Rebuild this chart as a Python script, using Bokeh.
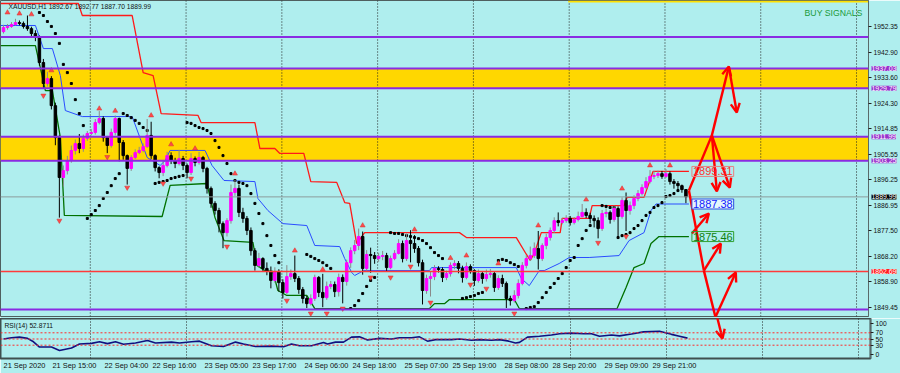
from bokeh.plotting import figure
from bokeh.models import (Range1d, FixedTicker, Span, BoxAnnotation, Label, Arrow, OpenHead,
                          ColumnDataSource, NumeralTickFormatter)
from bokeh.layouts import column, row
from bokeh.embed import file_html
from bokeh.resources import INLINE

# ----------------------------- data -----------------------------
first_open = 1950.5
close = [
    1952.0, 1952.4, 1953.1, 1953.8, 1953.5, 1952.4, 1951.6, 1949.8, 1948.4, 1939.2,
    1931.5, 1933.3, 1923.4, 1911.7, 1897.1, 1899.6, 1903.3, 1907.0, 1909.5, 1907.7,
    1911.4, 1913.2, 1913.6, 1917.2, 1918.7, 1911.7, 1908.8, 1913.6, 1918.7, 1909.9,
    1905.1, 1900.4, 1904.4, 1906.2, 1907.0, 1908.4, 1912.5, 1905.1, 1900.7, 1898.9,
    1901.5, 1905.1, 1903.3, 1902.2, 1904.0, 1901.5, 1898.9, 1904.0, 1902.6, 1904.4,
    1900.4, 1893.1, 1887.6, 1885.0, 1880.2, 1876.9, 1881.3, 1891.6, 1893.1, 1884.3,
    1882.1, 1877.7, 1870.3, 1864.9, 1867.4, 1863.8, 1862.7, 1859.4, 1862.7, 1858.6,
    1855.0, 1860.8, 1861.9, 1860.1, 1856.1, 1852.8, 1850.9, 1852.8, 1860.5, 1855.0,
    1853.1, 1857.2, 1857.9, 1855.3, 1860.5, 1859.0, 1865.9, 1870.3, 1872.2, 1875.5,
    1863.8, 1868.9, 1868.5, 1867.4, 1868.2, 1868.5, 1864.1, 1867.4, 1869.3, 1872.9,
    1867.4, 1874.0, 1872.9, 1871.1, 1865.9, 1855.7, 1860.1, 1860.8, 1863.8, 1863.4,
    1860.5, 1861.9, 1864.9, 1865.6, 1863.8, 1860.5, 1864.5, 1863.0, 1859.4, 1861.9,
    1860.1, 1861.6, 1861.9, 1856.8, 1860.1, 1858.3, 1852.8, 1852.0, 1853.9, 1858.3,
    1864.9, 1867.4, 1868.5, 1871.1, 1867.4, 1872.2, 1875.1, 1877.7, 1881.3, 1880.6,
    1881.3, 1882.1, 1880.6, 1881.7, 1882.8, 1884.3, 1883.2, 1882.1, 1881.3, 1878.4,
    1883.9, 1884.3, 1881.7, 1885.7, 1882.8, 1888.7, 1885.0, 1886.8, 1889.4, 1891.2,
    1893.4, 1895.6, 1897.5, 1897.8, 1898.5, 1897.5, 1898.5, 1895.6, 1894.9, 1894.1,
    1892.67, 1889.99]
high = [
    1953.0, 1953.3, 1954.0, 1955.2, 1954.6, 1954.2, 1956.4, 1952.3, 1951.0, 1949.1,
    1940.5, 1935.8, 1934.2, 1924.5, 1912.5, 1901.5, 1905.0, 1908.8, 1911.0, 1913.0,
    1912.8, 1914.1, 1914.8, 1918.5, 1921.4, 1919.5, 1912.3, 1915.0, 1919.8, 1919.0,
    1910.8, 1905.5, 1905.3, 1907.4, 1908.3, 1909.6, 1918.5, 1917.5, 1905.6, 1901.2,
    1903.5, 1906.5, 1906.3, 1904.3, 1907.2, 1905.0, 1902.2, 1906.0, 1904.8, 1906.5,
    1905.0, 1901.0, 1893.8, 1888.4, 1886.0, 1881.0, 1882.2, 1894.5, 1896.2, 1894.5,
    1886.0, 1883.0, 1878.8, 1871.2, 1869.5, 1867.9, 1866.0, 1864.5, 1864.2, 1863.5,
    1859.8, 1865.0, 1863.4, 1868.5, 1861.0, 1857.0, 1853.7, 1854.3, 1861.5, 1861.0,
    1861.8, 1859.0, 1859.2, 1859.0, 1861.9, 1861.6, 1867.0, 1871.5, 1874.2, 1878.4,
    1877.3, 1870.5, 1871.4, 1869.8, 1869.5, 1870.2, 1869.5, 1868.5, 1870.5, 1874.5,
    1874.0, 1876.6, 1877.8, 1876.0, 1872.0, 1867.0, 1861.5, 1862.5, 1865.0, 1864.6,
    1864.2, 1863.0, 1866.0, 1866.8, 1866.5, 1864.8, 1866.0, 1865.3, 1863.5, 1863.4,
    1862.8, 1863.4, 1863.6, 1862.5, 1861.3, 1861.5, 1859.0, 1853.8, 1855.8, 1859.8,
    1866.1, 1868.7, 1871.8, 1873.3, 1877.5, 1873.0, 1876.5, 1878.8, 1882.5, 1884.3,
    1882.3, 1883.3, 1883.0, 1882.6, 1884.6, 1887.4, 1885.8, 1884.2, 1883.2, 1882.5,
    1885.2, 1885.8, 1885.0, 1886.8, 1886.5, 1889.8, 1891.6, 1888.3, 1890.6, 1892.5,
    1894.6, 1897.2, 1899.8, 1899.5, 1899.6, 1899.5, 1900.2, 1899.3, 1896.5, 1895.8,
    1894.5, 1892.77]
low = [
    1949.8, 1951.2, 1951.9, 1952.7, 1952.8, 1951.6, 1950.8, 1948.9, 1947.0, 1938.0,
    1929.5, 1930.4, 1922.0, 1908.9, 1882.4, 1893.8, 1898.2, 1902.5, 1905.5, 1906.0,
    1906.5, 1910.5, 1912.5, 1912.8, 1916.5, 1910.2, 1906.0, 1908.0, 1912.5, 1903.0,
    1903.6, 1894.5, 1899.5, 1903.8, 1905.6, 1906.3, 1907.9, 1903.9, 1899.3, 1896.8,
    1897.6, 1900.8, 1902.0, 1900.5, 1901.5, 1899.8, 1896.8, 1898.0, 1901.2, 1901.8,
    1899.0, 1891.2, 1886.0, 1883.5, 1877.0, 1871.2, 1875.5, 1880.2, 1890.4, 1882.6,
    1880.5, 1876.0, 1868.5, 1863.0, 1864.0, 1862.5, 1861.3, 1856.5, 1858.5, 1855.3,
    1852.8, 1854.3, 1859.6, 1858.8, 1854.5, 1851.0, 1849.3, 1850.2, 1851.9, 1853.3,
    1849.6, 1852.3, 1856.2, 1853.3, 1853.5, 1851.0, 1857.5, 1864.0, 1869.0, 1870.5,
    1861.5, 1862.5, 1862.2, 1865.5, 1866.2, 1866.8, 1862.8, 1863.5, 1866.8, 1868.9,
    1866.0, 1866.5, 1866.0, 1869.5, 1864.5, 1850.6, 1854.5, 1853.5, 1859.5, 1862.3,
    1858.8, 1859.5, 1860.8, 1863.5, 1862.0, 1858.6, 1859.8, 1861.9, 1857.4, 1858.6,
    1858.2, 1859.0, 1860.4, 1855.2, 1855.9, 1857.0, 1849.3, 1850.2, 1851.3, 1852.8,
    1857.6, 1863.8, 1866.5, 1867.6, 1863.4, 1866.5, 1870.8, 1874.0, 1876.8, 1879.2,
    1879.9, 1880.5, 1879.5, 1879.9, 1881.0, 1882.5, 1882.2, 1880.3, 1878.8, 1874.8,
    1877.5, 1882.5, 1880.2, 1880.9, 1875.0, 1882.0, 1877.5, 1883.5, 1885.5, 1888.4,
    1890.5, 1892.7, 1894.9, 1896.5, 1896.9, 1896.6, 1896.9, 1894.5, 1893.0, 1892.5,
    1891.5, 1887.70]

sar_bar = [9, 10, 11, 12, 13, 14, 15, 16, 17, 18, 19, 20,
           21, 22, 23, 24, 25, 26, 27, 28, 29,
           30, 31, 32, 33, 34, 35, 36,
           38, 39, 40, 41, 42, 43, 44, 45,
           46, 47, 48, 49, 50, 51, 52, 53, 54, 55, 56, 57, 58, 59, 60, 61, 62, 63, 64, 65, 66, 67, 68, 69,
           76, 77, 78, 79, 80, 81, 82,
           87, 88, 89, 90, 91, 92, 93,
           97, 98, 99, 100, 101, 102, 103, 104, 105, 106, 107, 108, 109, 110,
           115, 116, 117, 118, 119, 120,
           124, 125, 126, 127, 128, 129,
           131, 132, 133, 134, 135, 136, 137, 138, 139, 140, 141, 142, 143, 144, 145, 146, 147,
           150, 151, 152, 153,
           154, 155, 156, 157, 158, 159, 160, 161, 162, 163, 164, 165, 166, 167, 168, 169]
sar_val = [1957.5, 1956.4, 1954.2, 1952.4, 1949.8, 1946.2, 1938.5, 1935.5, 1931.5, 1925.6, 1920.5, 1916.1,
           1882.1, 1883.5, 1885.0, 1886.8, 1889.4, 1891.6, 1894.1, 1896.7, 1898.5,
           1920.5, 1919.8, 1919.0, 1918.0, 1916.9, 1915.4, 1914.3,
           1894.9, 1895.3, 1895.6, 1896.0, 1896.7, 1897.1, 1897.5, 1897.8,
           1917.2, 1916.9, 1916.1, 1915.4, 1915.0, 1914.3, 1913.2, 1910.6, 1908.1, 1905.1, 1902.2, 1898.5,
           1896.0, 1895.3, 1894.9, 1894.1, 1891.2, 1887.6, 1883.9, 1880.2, 1875.8, 1872.2, 1868.5, 1865.9,
           1868.9, 1868.2, 1867.4, 1866.7, 1865.9, 1864.9, 1863.8,
           1849.1, 1850.2, 1852.0, 1854.6, 1857.2, 1859.4, 1860.5,
           1876.9, 1876.6, 1876.6, 1876.2, 1875.8, 1875.5, 1875.1, 1874.7, 1874.0, 1872.9, 1871.4, 1869.6,
           1868.5, 1867.4,
           1852.8, 1853.1, 1853.5, 1853.9, 1854.6, 1855.0,
           1866.7, 1867.1, 1866.7, 1865.9, 1865.2, 1864.5,
           1849.1, 1849.5, 1849.8, 1851.3, 1853.1, 1855.0, 1856.8, 1858.3, 1860.1, 1861.9, 1864.1, 1866.7,
           1867.8, 1872.2, 1874.7, 1877.7, 1879.5,
           1886.8, 1886.5, 1886.1, 1886.1,
           1875.1, 1875.8, 1876.2, 1876.9, 1878.4, 1879.5, 1881.3, 1883.2, 1884.3, 1886.1, 1886.8, 1887.9,
           1890.1, 1890.5, 1891.2, 1892.3]

frac_up_bar = [1, 4, 7, 12, 24, 28, 37, 42, 48, 58, 73, 80, 90, 103, 112, 116, 124, 134, 146, 155, 162, 167]
frac_up_val = [1957.5, 1957.1, 1956.8, 1936.3, 1922.3, 1921.5, 1919.8, 1909.2, 1907.7, 1898.5, 1870.3,
               1863.4, 1879.5, 1878.0, 1867.6, 1868.5, 1865.6, 1879.5, 1889.0, 1893.0, 1901.5, 1901.5]
frac_dn_bar = [10, 14, 26, 31, 40, 47, 56, 71, 77, 81, 85, 92, 97, 102, 107, 117, 121, 128, 149, 156]
frac_dn_val = [1927.1, 1881.3, 1904.6, 1893.4, 1894.9, 1896.7, 1871.8, 1852.0, 1847.3, 1847.3,
               1849.1, 1860.5, 1860.5, 1864.5, 1851.3, 1857.9, 1856.4, 1847.3, 1873.2, 1875.5]

red_x = [-0.75, 18.75, 19.75, 32.25, 35, 37.5, 39.5, 48.75, 49.5, 63, 64.25, 68, 69.25, 75.25, 77, 83.5,
         85.5, 86.75, 88.5, 90.5, 114.25, 116, 128.5, 131, 132, 133, 134.75, 139.5, 140, 146.75, 147.5,
         155.5, 156.25, 160.5, 162.75, 171.75]
red_y = [1960.8, 1960.8, 1956.4, 1956.4, 1935.5, 1934.4, 1920.5, 1919.8, 1917.2, 1917.2, 1907.7, 1907.7,
         1905.9, 1905.9, 1895.6, 1895.3, 1887.9, 1887.6, 1872.9, 1876.9, 1876.9, 1875.1, 1875.1, 1869.0,
         1866.7, 1869.3, 1876.9, 1876.9, 1882.1, 1882.1, 1886.8, 1886.8, 1889.8, 1889.8, 1899.31, 1899.31]
green_x = [-0.75, 8, 10.5, 12.25, 14.25, 15.25, 39.75, 41.75, 51, 51.25, 53, 55.25, 62.5, 63.5, 65.5, 67.5,
           68.75, 71, 76, 78, 106.75, 108, 110.5, 111.75, 128, 129.25, 153.75, 156, 158, 160.5, 162.25,
           164.25, 171.75]
green_y = [1945.4, 1945.4, 1928.9, 1928.9, 1911.7, 1883.2, 1882.8, 1894.2, 1894.9, 1893.1, 1882.4, 1874.0,
           1873.3, 1864.9, 1863.0, 1862.7, 1855.7, 1853.9, 1853.9, 1849.1, 1849.1, 1850.9, 1850.9, 1852.4,
           1852.4, 1849.1, 1849.1, 1856.8, 1864.1, 1865.6, 1872.9, 1875.46, 1875.46]
blue_x = [-0.75, 8, 10, 12.25, 14.25, 15.5, 19.75, 32.25, 34.25, 36, 37.25, 39.25, 40.5, 41.75, 50.5, 52.25,
          55.25, 63, 63.75, 66.25, 70, 76, 78, 84.25, 85.5, 87.25, 88, 90.25, 106.75, 107.25, 128.5, 129.75,
          131.75, 134.25, 135.5, 139.25, 141.75, 146.75, 154.25, 156.75, 160.5, 162.25, 163.5, 171.75]
blue_y = [1952.75, 1952.75, 1944.3, 1944.3, 1934.4, 1921.6, 1919.4, 1919.4, 1911.4, 1904.4, 1903.3, 1901.5,
          1903.3, 1907.0, 1907.0, 1901.5, 1896.0, 1895.6, 1889.4, 1885.0, 1880.2, 1879.5, 1872.2, 1871.8,
          1867.4, 1862.3, 1861.2, 1863.0, 1863.0, 1864.1, 1864.1, 1860.1, 1857.5, 1863.0, 1863.0, 1865.6,
          1867.8, 1867.8, 1868.5, 1874.0, 1876.9, 1885.0, 1887.38, 1887.38]

rsi_bar = [0, 2, 4, 6, 7.5, 9, 12, 14, 17, 19, 22, 24, 26, 28, 30, 33, 36, 38, 42, 44, 47, 49, 52, 55, 58,
           60, 63, 67, 70, 72, 74, 77, 80, 81, 83, 85, 87, 89, 91, 94, 97, 99, 102, 104, 106, 108, 112, 114,
           117, 119, 122, 124, 126, 128, 129, 131, 134, 137, 139, 142, 145, 147, 149, 152, 154, 157, 160,
           164, 167, 169, 171]
rsi_val = [50, 54, 56, 52, 41, 24, 24, 13, 21, 34, 36, 41, 35, 41, 33, 37, 45, 37, 40, 37, 41, 43, 28, 26,
           40, 34, 26, 27, 25, 34, 28, 28, 39, 34, 40, 40, 56, 57, 47, 52, 50, 54, 54, 57, 43, 48, 48, 50,
           46, 48, 46, 48, 44, 37, 39, 56, 59, 63, 67, 69, 67, 67, 59, 63, 60, 66, 73, 75, 65, 59, 52.87]
rsi_levels = [70, 50, 30]
rsi_ticks = [0, 30, 50, 70, 100]

zones = [(1929.79, 1937.03), (1903.25, 1911.99)]
purple_levels = [1948.5, 1848.8]
current_price = 1889.99
red_level = 1862.69
top_line_price, top_line_start = 1961.55, 141.5

price_ticks = [1952.35, 1942.90, 1933.60, 1924.30, 1914.85, 1905.55, 1896.25, 1886.95, 1877.50,
               1868.20, 1858.90, 1849.45]
tick_bars = [0, 12, 25, 37, 50, 62, 75, 87, 100, 112, 125, 137, 150, 162]
tick_labels = ["21 Sep 2020", "21 Sep 15:00", "22 Sep 04:00", "22 Sep 16:00", "23 Sep 05:00",
               "23 Sep 17:00", "24 Sep 06:00", "24 Sep 18:00", "25 Sep 07:00", "25 Sep 19:00",
               "28 Sep 08:00", "28 Sep 20:00", "29 Sep 09:00", "29 Sep 21:00"]
day_breaks = [21.75, 45.75, 69.75, 93.75, 117.75, 141.75, 165.75, 189.75, 213.75]

# projected zig-zag arrows (bar, price)
proj_x0 = [171.75, 175.5, 171.75, 177.5, 177.5, 181.75, 175.5, 172.5, 178.25, 177.5]
proj_y0 = [1892.3, 1863.0, 1892.3, 1912.5, 1912.5, 1937.7, 1863.0, 1876.6, 1845.5, 1912.5]
proj_x1 = [175.5, 179.75, 177.5, 181.75, 182.0, 183.75, 179.75, 176.75, 183.5, 178.75]
proj_y1 = [1863.0, 1838.1, 1912.5, 1937.7, 1893.4, 1920.9, 1872.9, 1883.9, 1862.3, 1892.0]
proj_head = [False, True, False, True, True, True, True, True, True, True]

tag_values = [1899.31, 1887.38, 1875.46]
tag_colors = ["#ff3030", "#1020ff", "#108010"]
tag_borders = ["#e88080", "#3050e0", "#30a030"]
tag_fills = [None, "#e4f6fb", None]

axis_tag_values = [1937.03, 1929.79, 1911.99, 1903.25, 1889.99, 1862.69]
axis_tag_fills = ["#9932cc", "#9932cc", "#9932cc", "#9932cc", "#000000", "#ff2020"]

# ----------------------------- layout -----------------------------
BG = "#AFEEEE"
FONT = "Liberation Sans"
X0, X1 = -0.75, 216.75
PX_PER = 2.731
P_TOP = 1961.9
MAIN_H = 316
RIGHT_W = 30
P_BOT = P_TOP - MAIN_H / PX_PER
R_TOP, R_BOT = 100 + 5 * 100 / 31, -4 * 100 / 31
P2_TOP, P2_BOT = P_TOP - 318 / PX_PER, P_TOP - 358 / PX_PER

p1 = figure(width=900, height=318, x_range=Range1d(X0, X1), y_range=Range1d(P_BOT, P_TOP),
            output_backend="svg", toolbar_location=None, x_axis_location=None,
            y_axis_location="right", min_border_left=0, min_border_top=0, min_border_bottom=2,
            min_border_right=RIGHT_W, background_fill_color=BG, border_fill_color=BG,
            outline_line_color="#4f5f5f", outline_line_width=1)
p1.grid.visible = False

# transparent strip laid over the price scale, used for the coloured price tags
pa = figure(width=RIGHT_W, height=318, x_range=Range1d(0, RIGHT_W), y_range=p1.y_range,
            output_backend="svg", toolbar_location=None, x_axis_location=None, y_axis_location=None,
            min_border_left=0, min_border_top=0, min_border_bottom=2, min_border_right=0,
            background_fill_color=None, border_fill_color=None, outline_line_color=None,
            styles={"margin-left": f"-{RIGHT_W}px"})
pa.grid.visible = False

p2 = figure(width=900, height=55, x_range=p1.x_range, y_range=Range1d(R_BOT, R_TOP),
            output_backend="svg", toolbar_location=None, y_axis_location="right",
            min_border_left=0, min_border_top=0, min_border_bottom=15, min_border_right=RIGHT_W,
            background_fill_color=BG, border_fill_color=BG,
            outline_line_color="#3f4f4f", outline_line_width=2)
p2.grid.visible = False
p2.extra_y_ranges = {"price": Range1d(P2_BOT, P2_TOP)}

for ax, ticks in ((p1.yaxis[0], price_ticks), (p2.yaxis[0], rsi_ticks)):
    ax.ticker = FixedTicker(ticks=ticks)
    ax.axis_line_color = "#5a6a6a"
    ax.major_tick_line_color = "#202020"
    ax.major_tick_out = 3
    ax.major_tick_in = 0
    ax.minor_tick_line_color = None
    ax.major_label_standoff = 2
    ax.major_label_text_font = FONT
    ax.major_label_text_font_size = "6.7px"
    ax.major_label_text_color = "#101010"
p1.yaxis[0].formatter = NumeralTickFormatter(format="0.00")

xa = p2.xaxis[0]
label_pos = [round((b + 0.4 + 0.45 * len(t)) * 4) / 4 for b, t in zip(tick_bars, tick_labels)]
xa.ticker = FixedTicker(ticks=label_pos)
xa.major_label_overrides = {pos: t for pos, t in zip(label_pos, tick_labels)}
xa.axis_line_color = None
xa.major_tick_line_color = None
xa.minor_tick_line_color = None
xa.major_tick_out = 0
xa.major_tick_in = 0
xa.minor_tick_out = 0
xa.major_label_standoff = 2
xa.major_label_text_font = FONT
xa.major_label_text_font_size = "7.4px"
xa.major_label_text_color = "#101010"

# zones (background)
for lo, hi in zones:
    p1.add_layout(BoxAnnotation(bottom=lo, top=hi, fill_color="#FFD700", fill_alpha=1.0,
                                line_color=None, level="underlay"))
# day separators
for b in day_breaks:
    for fig in (p1, p2):
        fig.add_layout(Span(location=b, dimension="height", line_color="#202020",
                            line_dash="1 2", line_width=1, level="underlay"))

# indicator lines
p1.line(red_x, red_y, line_color="#ff1a1a", line_width=1.3)
p1.line(green_x, green_y, line_color="#007000", line_width=1.3)
p1.line(blue_x, blue_y, line_color="#2a4cff", line_width=1)

# horizontal objects
for lvl in purple_levels:
    p1.add_layout(Span(location=lvl, dimension="width", line_color="#8a2be2", line_width=2))
for lo, hi in zones:
    for lvl in (lo, hi):
        p1.add_layout(Span(location=lvl, dimension="width", line_color="#8a2be2", line_width=2))
p1.add_layout(Span(location=current_price, dimension="width", line_color="#8c9c9c", line_width=1))
p1.add_layout(Span(location=red_level, dimension="width", line_color="#ff3a3a", line_width=1.6))
p1.segment(x0=[top_line_start], y0=[top_line_price], x1=[X1], y1=[top_line_price],
           line_color="#ffe000", line_width=2)

# parabolic SAR
p1.scatter(sar_bar, sar_val, size=2.0, marker="square", color="#000000")

# candles
opens = [first_open] + close[:-1]
bars = list(range(len(close)))
src = ColumnDataSource(dict(
    x=bars, top=[max(o, c) for o, c in zip(opens, close)],
    bottom=[min(o, c) for o, c in zip(opens, close)], high=high, low=low,
    col=["#ff00ff" if c >= o else "#000000" for o, c in zip(opens, close)],
    wcol=["#8a8a8a" if c >= o else "#000000" for o, c in zip(opens, close)],
))
p1.segment(x0="x", y0="low", x1="x", y1="high", line_color="wcol", line_width=1, source=src)
p1.vbar(x="x", width=0.62, top="top", bottom="bottom", fill_color="col", line_color="col",
        line_width=1, source=src)

# fractals
p1.scatter(frac_up_bar, frac_up_val, marker="triangle", size=5, fill_color="#ff4a4a",
           line_color="#d03030", line_width=0.5)
p1.scatter(frac_dn_bar, frac_dn_val, marker="inverted_triangle", size=5, fill_color="#ff4a4a",
           line_color="#d03030", line_width=0.5)

# projection arrows
for x0, y0, x1, y1, hd in zip(proj_x0, proj_y0, proj_x1, proj_y1, proj_head):
    for fig, rng in ((p1, "default"), (p2, "price")):
        end = OpenHead(size=9, line_color="#ff0000", line_width=2.4) if hd else None
        fig.add_layout(Arrow(x_start=x0, y_start=y0, x_end=x1, y_end=y1, end=end,
                             line_color="#ff0000", line_width=2.4, y_range_name=rng))

# value tags on chart
for v, tc, bc, fc in zip(tag_values, tag_colors, tag_borders, tag_fills):
    p1.add_layout(Label(x=172.5, y=v, text=f"{v:.2f}", text_color=tc, text_font=FONT,
                        text_font_size="11px", text_baseline="middle", text_align="left",
                        border_line_color=bc, border_line_width=1, background_fill_color=fc,
                        padding=1))

# coloured price tags on the price scale
for v, bgc in zip(axis_tag_values, axis_tag_fills):
    pa.add_layout(Label(x=0, y=v, x_offset=1, text=f"{v:.2f}", text_color="white", text_font=FONT,
                        text_font_size="6.9px", text_baseline="middle", text_align="left",
                        background_fill_color=bgc))

# RSI panel
for lvl in rsi_levels:
    p2.add_layout(Span(location=lvl, dimension="width", line_color="#ff2a2a", line_dash="2 2",
                       line_width=1))
p2.line(rsi_bar, rsi_val, line_color="#101080", line_width=1.6)

# texts
p1.add_layout(Label(x=X0, y=P_TOP, x_offset=8, y_offset=-2,
                    text="XAUUSD,H1  1892.67 1892.77 1887.70 1889.99", text_font=FONT,
                    text_font_size="6.7px", text_color="#101010", text_baseline="top"))
p1.add_layout(Label(x=X1, y=P_TOP, x_offset=-6, y_offset=-7, text="BUY SIGNALS", text_font=FONT,
                    text_font_size="8.7px", text_color="#1a9a3a", text_baseline="top",
                    text_align="right"))
p2.add_layout(Label(x=X0, y=R_TOP, x_offset=4, y_offset=-3, text="RSI(14) 52.8711", text_font=FONT,
                    text_font_size="6.7px", text_color="#101010", text_baseline="top"))

layout = column(row(p1, pa, spacing=0), p2, spacing=0)
open("out.html", "w").write(file_html(layout, INLINE))
